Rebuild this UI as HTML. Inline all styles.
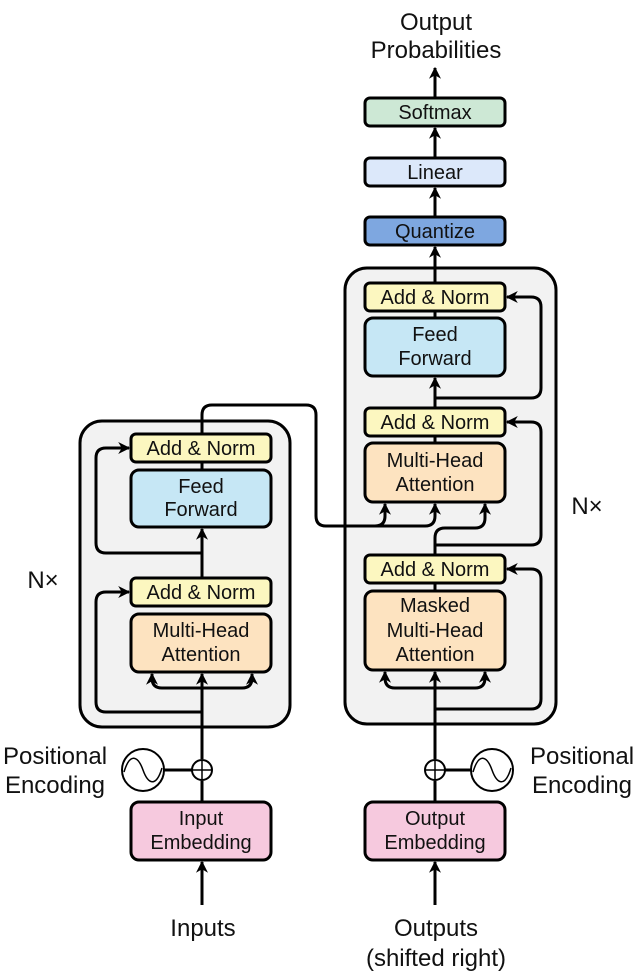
<!DOCTYPE html>
<html><head><style>body{margin:0;background:#fff}svg{display:block}text{font-family:"Liberation Sans",sans-serif;fill:#111}</style></head><body>
<svg width="639" height="978" viewBox="0 0 639 978" xmlns="http://www.w3.org/2000/svg">
<defs><marker id="a" viewBox="0 0 10 10" refX="9" refY="5" markerWidth="4" markerHeight="4" orient="auto-start-reverse"><path d="M0,0 L10,5 L0,10 L3,5 Z" fill="#000"/></marker></defs>
<g fill="#f2f2f2" stroke="#000" stroke-width="3">
<rect x="80" y="421" width="210" height="306" rx="22"/>
<rect x="345" y="268" width="211" height="456" rx="22"/>
</g>
<g fill="none" stroke="#000" stroke-width="3" stroke-linejoin="round">
<path d="M202 905 V862" marker-end="url(#a)"/>
<path d="M202 802 V781"/>
<path d="M202 759 V674" marker-end="url(#a)"/>
<path d="M202 688 H162 Q152 688 152 678 V674" marker-end="url(#a)"/>
<path d="M202 688 H242 Q252 688 252 678 V674" marker-end="url(#a)"/>
<path d="M202 712 H106 Q96 712 96 702 V602 Q96 592 106 592 H129" marker-end="url(#a)"/>
<path d="M202 606 V529" marker-end="url(#a)"/>
<path d="M202 553 H106 Q96 553 96 543 V458 Q96 448 106 448 H129" marker-end="url(#a)"/>
<path d="M202 527 V434"/>
<path d="M202 434 V415 Q202 405 212 405 H306 Q316 405 316 415 V516 Q316 526 326 526 H375 Q385 526 385 516 V504" marker-end="url(#a)"/>
<path d="M375 526 H425 Q435 526 435 516 V504" marker-end="url(#a)"/>
<path d="M435 905 V862" marker-end="url(#a)"/>
<path d="M435 802 V781"/>
<path d="M435 759 V672" marker-end="url(#a)"/>
<path d="M435 688 H395 Q385 688 385 678 V672" marker-end="url(#a)"/>
<path d="M435 688 H475 Q485 688 485 678 V672" marker-end="url(#a)"/>
<path d="M435 709 H531 Q541 709 541 699 V579 Q541 569 531 569 H507" marker-end="url(#a)"/>
<path d="M435 591 V555"/>
<path d="M435 555 V538 Q435 528 445 528 H475 Q485 528 485 518 V504" marker-end="url(#a)"/>
<path d="M435 545 H531 Q541 545 541 535 V432 Q541 422 531 422 H507" marker-end="url(#a)"/>
<path d="M435 443 V408"/>
<path d="M435 408 V378" marker-end="url(#a)"/>
<path d="M435 398 H531 Q541 398 541 388 V307 Q541 297 531 297 H507" marker-end="url(#a)"/>
<path d="M435 318 V283"/>
<path d="M435 283 V247" marker-end="url(#a)"/>
<path d="M435 217 V188" marker-end="url(#a)"/>
<path d="M435 158 V128" marker-end="url(#a)"/>
<path d="M435 98 V68" marker-end="url(#a)"/>
<path d="M164 770 H192"/><path d="M445 770 H471"/>
</g>
<g stroke="#000" stroke-width="3">
<rect x="131" y="434" width="140" height="28" rx="5" fill="#fcf7c0"/>
<rect x="131" y="470" width="140" height="57" rx="8" fill="#c6e7f5"/>
<rect x="131" y="578" width="140" height="28" rx="5" fill="#fcf7c0"/>
<rect x="131" y="614" width="140" height="58" rx="8" fill="#fde3c0"/>
<rect x="131" y="802" width="140" height="58" rx="8" fill="#f6c9de"/>
<rect x="365" y="283" width="140" height="28" rx="5" fill="#fcf7c0"/>
<rect x="365" y="318" width="140" height="58" rx="8" fill="#c6e7f5"/>
<rect x="365" y="408" width="140" height="28" rx="5" fill="#fcf7c0"/>
<rect x="365" y="443" width="140" height="59" rx="8" fill="#fde3c0"/>
<rect x="365" y="555" width="140" height="28" rx="5" fill="#fcf7c0"/>
<rect x="365" y="591" width="140" height="79" rx="8" fill="#fde3c0"/>
<rect x="365" y="802" width="140" height="58" rx="8" fill="#f6c9de"/>
<rect x="365" y="98" width="140" height="28" rx="5" fill="#cde8d5"/>
<rect x="365" y="158" width="140" height="28" rx="5" fill="#dce8fa"/>
<rect x="365" y="217" width="140" height="28" rx="5" fill="#7ea7e0"/>
</g>
<g fill="#fff" stroke="#000" stroke-width="2">
<circle cx="143" cy="770" r="21"/><circle cx="492" cy="770" r="21"/>
<circle cx="202" cy="770" r="10"/><circle cx="435" cy="770" r="10"/>
</g>
<g fill="none" stroke="#000" stroke-width="1.5">
<path d="M192 770 H212 M202 760 V780 M425 770 H445 M435 760 V780"/>
<path d="M124 772 C130 752 138 756 143 770 C148 784 156 788 162 768"/>
<path d="M473 772 C479 752 487 756 492 770 C497 784 505 788 511 768"/>
</g>
<g font-size="20" text-anchor="middle">
<text x="201" y="455">Add &amp; Norm</text>
<text x="201" y="493">Feed</text><text x="201" y="516">Forward</text>
<text x="201" y="599">Add &amp; Norm</text>
<text x="201" y="637">Multi-Head</text><text x="201" y="661">Attention</text>
<text x="201" y="825">Input</text><text x="201" y="849">Embedding</text>
<text x="435" y="304">Add &amp; Norm</text>
<text x="435" y="341">Feed</text><text x="435" y="365">Forward</text>
<text x="435" y="429">Add &amp; Norm</text>
<text x="435" y="467">Multi-Head</text><text x="435" y="491">Attention</text>
<text x="435" y="576">Add &amp; Norm</text>
<text x="435" y="612">Masked</text><text x="435" y="637">Multi-Head</text><text x="435" y="661">Attention</text>
<text x="435" y="825">Output</text><text x="435" y="849">Embedding</text>
<text x="435" y="119">Softmax</text>
<text x="435" y="179">Linear</text>
<text x="435" y="238">Quantize</text>
</g>
<g font-size="24" text-anchor="middle">
<text x="436" y="30">Output</text><text x="436" y="58">Probabilities</text>
<text x="55" y="764">Positional</text><text x="55" y="793">Encoding</text>
<text x="582" y="764">Positional</text><text x="582" y="793">Encoding</text>
<text x="203" y="936">Inputs</text>
<text x="436" y="936">Outputs</text><text x="436" y="966">(shifted right)</text>
<text x="43" y="588">N×</text>
<text x="587" y="514">N×</text>
</g>
</svg>
</body></html>
